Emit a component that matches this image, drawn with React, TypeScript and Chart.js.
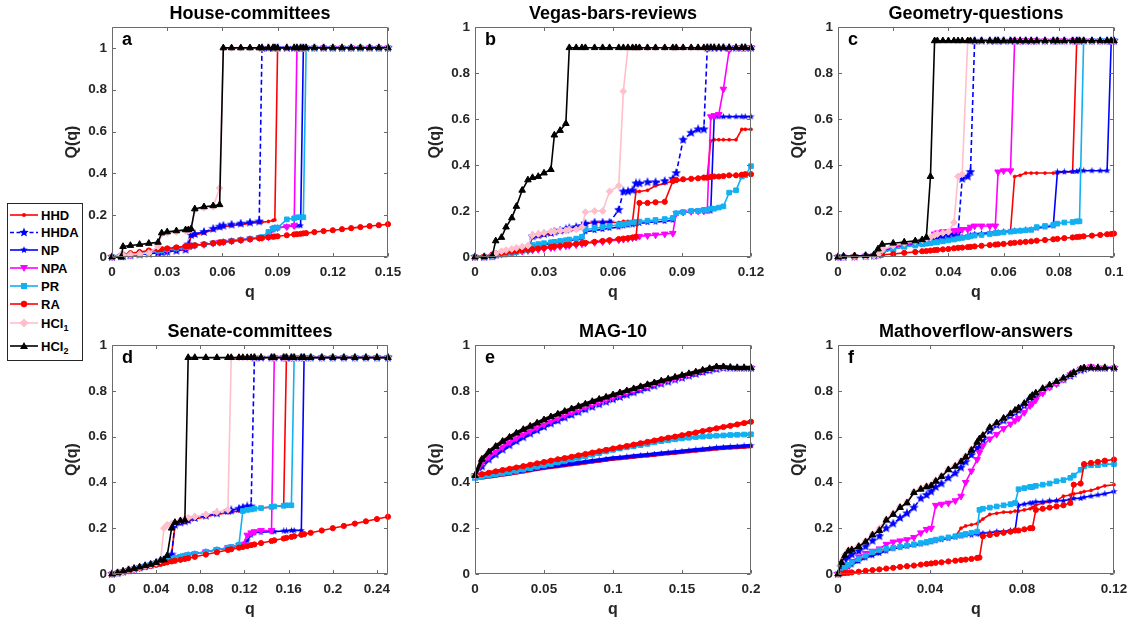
import React, { useEffect, useRef } from 'react';
import { Chart, registerables } from 'chart.js';

Chart.register(...registerables);

const FONT = '"Liberation Sans", Arial, Helvetica, sans-serif';
Chart.defaults.font.family = FONT;

// ---------------- series names ----------------
const SERIES_NAMES = ['HHD', 'HHDA', 'NP', 'NPA', 'PR', 'RA', 'HCI1', 'HCI2'];
const LEGEND_MAIN = ['HHD', 'HHDA', 'NP', 'NPA', 'PR', 'RA', 'HCI', 'HCI'];
const LEGEND_SUB = ['', '', '', '', '', '', '1', '2'];

// ---------------- panel texts & ticks ----------------
const TITLES = ['House-committees', 'Vegas-bars-reviews', 'Geometry-questions', 'Senate-committees', 'MAG-10', 'Mathoverflow-answers'];
const LETTERS = ['a', 'b', 'c', 'd', 'e', 'f'];
const X_MAX = [0.15, 0.12, 0.1, 0.25, 0.2, 0.12];
const Y_MAX = [1.1, 1, 1, 1, 1, 1];
const Y_TICKS = [0, 0.2, 0.4, 0.6, 0.8, 1];
const Y_TICK_LABELS = ['0', '0.2', '0.4', '0.6', '0.8', '1'];
const X_TICKS = [
  [0, 0.03, 0.06, 0.09, 0.12, 0.15],
  [0, 0.03, 0.06, 0.09, 0.12],
  [0, 0.02, 0.04, 0.06, 0.08, 0.1],
  [0, 0.04, 0.08, 0.12, 0.16, 0.2, 0.24],
  [0, 0.05, 0.1, 0.15, 0.2],
  [0, 0.04, 0.08, 0.12],
];
const X_TICK_LABELS = [
  ['0', '0.03', '0.06', '0.09', '0.12', '0.15'],
  ['0', '0.03', '0.06', '0.09', '0.12'],
  ['0', '0.02', '0.04', '0.06', '0.08', '0.1'],
  ['0', '0.04', '0.08', '0.12', '0.16', '0.2', '0.24'],
  ['0', '0.05', '0.1', '0.15', '0.2'],
  ['0', '0.04', '0.08', '0.12'],
];

// ---------------- (a) House-committees ----------------
const qA = [0, 0.005, 0.006, 0.01, 0.015, 0.02, 0.025, 0.027, 0.03, 0.035,
  0.04, 0.0415, 0.043, 0.045, 0.05, 0.055, 0.0585, 0.0605, 0.065, 0.07,
  0.075, 0.08, 0.0815, 0.085, 0.0875, 0.0885, 0.09, 0.095, 0.099, 0.1005,
  0.1025, 0.104, 0.1055, 0.11, 0.115, 0.12, 0.125, 0.13, 0.135, 0.14,
  0.145, 0.15];
const HHD_A = [0, 0.003, 0.004, 0.008, 0.012, 0.016, 0.02, 0.022, 0.025, 0.03,
  0.035, 0.05, 0.1, 0.105, 0.115, 0.13, 0.14, 0.145, 0.15, 0.155,
  0.16, 0.165, 0.167, 0.17, 0.175, 0.178, 1, 1, 1, 1,
  1, 1, 1, 1, 1, 1, 1, 1, 1, 1,
  1, 1];
const HHDA_A = [0, 0.003, 0.004, 0.008, 0.012, 0.016, 0.02, 0.022, 0.025, 0.03,
  0.035, 0.06, 0.105, 0.11, 0.12, 0.135, 0.145, 0.15, 0.155, 0.16,
  0.165, 0.17, 1, 1, 1, 1, 1, 1, 1, 1,
  1, 1, 1, 1, 1, 1, 1, 1, 1, 1,
  1, 1];
const NP_A = [0, 0.004, 0.005, 0.01, 0.015, 0.02, 0.03, 0.033, 0.037, 0.042,
  0.048, 0.05, 0.052, 0.055, 0.06, 0.066, 0.07, 0.072, 0.077, 0.082,
  0.087, 0.092, 0.093, 0.097, 0.13, 0.14, 0.14, 0.145, 0.15, 0.15,
  0.15, 1, 1, 1, 1, 1, 1, 1, 1, 1,
  1, 1];
const NPA_A = [0, 0.004, 0.005, 0.01, 0.015, 0.02, 0.03, 0.033, 0.037, 0.042,
  0.048, 0.05, 0.052, 0.055, 0.06, 0.066, 0.07, 0.072, 0.077, 0.082,
  0.087, 0.092, 0.093, 0.097, 0.135, 0.14, 0.14, 0.145, 0.15, 1,
  1, 1, 1, 1, 1, 1, 1, 1, 1, 1,
  1, 1];
const PR_A = [0, 0.004, 0.005, 0.01, 0.015, 0.02, 0.03, 0.033, 0.037, 0.042,
  0.048, 0.05, 0.052, 0.055, 0.06, 0.066, 0.07, 0.072, 0.077, 0.082,
  0.087, 0.092, 0.095, 0.12, 0.135, 0.14, 0.14, 0.18, 0.185, 0.19,
  0.19, 0.19, 1, 1, 1, 1, 1, 1, 1, 1,
  1, 1];
const RA_A = [0, 0.008, 0.012, 0.018, 0.024, 0.031, 0.036, 0.038, 0.041, 0.046,
  0.051, 0.053, 0.054, 0.056, 0.061, 0.066, 0.069, 0.071, 0.075, 0.08,
  0.085, 0.09, 0.091, 0.094, 0.097, 0.098, 0.099, 0.104, 0.108, 0.109,
  0.111, 0.113, 0.114, 0.119, 0.124, 0.128, 0.133, 0.138, 0.143, 0.148,
  0.152, 0.157];
const HCI1_A = [0, 0.008, 0.01, 0.012, 0.015, 0.02, 0.05, 0.11, 0.115, 0.12,
  0.125, 0.125, 0.13, 0.225, 0.235, 0.24, 0.33, 1, 1, 1,
  1, 1, 1, 1, 1, 1, 1, 1, 1, 1,
  1, 1, 1, 1, 1, 1, 1, 1, 1, 1,
  1, 1];
const HCI2_A = [0, 0, 0.05, 0.055, 0.06, 0.065, 0.07, 0.115, 0.12, 0.125,
  0.13, 0.13, 0.135, 0.23, 0.24, 0.245, 0.25, 1, 1, 1,
  1, 1, 1, 1, 1, 1, 1, 1, 1, 1,
  1, 1, 1, 1, 1, 1, 1, 1, 1, 1,
  1, 1];

// ---------------- (b) Vegas-bars-reviews ----------------
const qB = [0, 0.004, 0.0075, 0.009, 0.0115, 0.0135, 0.016, 0.018, 0.0205, 0.023,
  0.025, 0.0275, 0.03, 0.033, 0.0345, 0.037, 0.0395, 0.041, 0.044, 0.0465,
  0.048, 0.052, 0.0555, 0.0585, 0.0625, 0.0645, 0.0665, 0.0685, 0.07, 0.0715,
  0.075, 0.0785, 0.0825, 0.086, 0.0875, 0.0905, 0.094, 0.097, 0.0995, 0.101,
  0.1025, 0.104, 0.106, 0.108, 0.1105, 0.1135, 0.116, 0.1175, 0.12];
const HHD_B = [0, 0, 0.003, 0.008, 0.012, 0.016, 0.02, 0.025, 0.03, 0.035,
  0.085, 0.09, 0.095, 0.1, 0.105, 0.11, 0.11, 0.115, 0.12, 0.125,
  0.145, 0.15, 0.15, 0.15, 0.15, 0.155, 0.155, 0.155, 0.285, 0.285,
  0.29, 0.31, 0.32, 0.33, 0.33, 0.335, 0.34, 0.345, 0.35, 0.35,
  0.505, 0.51, 0.51, 0.51, 0.51, 0.51, 0.555, 0.555, 0.555];
const HHDA_B = [0, 0, 0.003, 0.01, 0.015, 0.02, 0.025, 0.03, 0.035, 0.04,
  0.09, 0.095, 0.1, 0.105, 0.11, 0.115, 0.12, 0.125, 0.13, 0.135,
  0.145, 0.15, 0.15, 0.15, 0.205, 0.285, 0.285, 0.29, 0.32, 0.32,
  0.325, 0.325, 0.33, 0.34, 0.365, 0.51, 0.54, 0.555, 0.555, 0.91,
  0.91, 0.91, 0.91, 0.91, 0.91, 0.91, 0.91, 0.91, 0.91];
const NP_B = [0, 0, 0.003, 0.008, 0.012, 0.015, 0.018, 0.022, 0.026, 0.03,
  0.045, 0.05, 0.055, 0.058, 0.062, 0.065, 0.068, 0.072, 0.075, 0.08,
  0.11, 0.115, 0.12, 0.125, 0.13, 0.135, 0.138, 0.14, 0.143, 0.146,
  0.15, 0.152, 0.155, 0.16, 0.19, 0.195, 0.198, 0.2, 0.2, 0.2,
  0.2, 0.61, 0.61, 0.61, 0.61, 0.61, 0.61, 0.61, 0.61];
const NPA_B = [0, 0, 0.003, 0.008, 0.012, 0.015, 0.018, 0.022, 0.025, 0.028,
  0.03, 0.033, 0.036, 0.04, 0.042, 0.045, 0.048, 0.05, 0.053, 0.057,
  0.06, 0.063, 0.066, 0.07, 0.074, 0.077, 0.08, 0.083, 0.086, 0.09,
  0.093, 0.096, 0.1, 0.103, 0.19, 0.195, 0.198, 0.2, 0.2, 0.205,
  0.61, 0.615, 0.62, 0.73, 0.9, 0.91, 0.91, 0.91, 0.91];
const PR_B = [0, 0, 0.003, 0.008, 0.012, 0.015, 0.018, 0.022, 0.026, 0.03,
  0.052, 0.056, 0.06, 0.064, 0.066, 0.07, 0.073, 0.076, 0.08, 0.088,
  0.12, 0.125, 0.13, 0.135, 0.14, 0.143, 0.146, 0.15, 0.152, 0.154,
  0.158, 0.161, 0.165, 0.17, 0.19, 0.195, 0.2, 0.2, 0.205, 0.205,
  0.21, 0.21, 0.215, 0.22, 0.28, 0.29, 0.35, 0.355, 0.395];
const RA_B = [0, 0.002, 0.01, 0.015, 0.018, 0.021, 0.023, 0.026, 0.029, 0.032,
  0.034, 0.037, 0.04, 0.044, 0.046, 0.049, 0.052, 0.053, 0.057, 0.06,
  0.062, 0.066, 0.07, 0.073, 0.078, 0.08, 0.082, 0.085, 0.088, 0.235,
  0.235, 0.238, 0.24, 0.33, 0.335, 0.338, 0.34, 0.342, 0.345, 0.345,
  0.348, 0.35, 0.35, 0.352, 0.355, 0.355, 0.358, 0.36, 0.36];
const HCI1_B = [0, 0, 0.005, 0.015, 0.025, 0.03, 0.035, 0.04, 0.045, 0.05,
  0.095, 0.1, 0.105, 0.11, 0.11, 0.115, 0.115, 0.12, 0.12, 0.13,
  0.195, 0.2, 0.2, 0.285, 0.31, 0.72, 0.91, 0.91, 0.91, 0.91,
  0.91, 0.91, 0.91, 0.91, 0.91, 0.91, 0.91, 0.91, 0.91, 0.91,
  0.91, 0.91, 0.91, 0.91, 0.91, 0.91, 0.91, 0.91, 0.91];
const HCI2_B = [0, 0, 0.005, 0.07, 0.085, 0.13, 0.17, 0.22, 0.29, 0.335,
  0.345, 0.35, 0.365, 0.38, 0.53, 0.55, 0.58, 0.91, 0.91, 0.91,
  0.91, 0.91, 0.91, 0.91, 0.91, 0.91, 0.91, 0.91, 0.91, 0.91,
  0.91, 0.91, 0.91, 0.91, 0.91, 0.91, 0.91, 0.91, 0.91, 0.91,
  0.91, 0.91, 0.91, 0.91, 0.91, 0.91, 0.91, 0.91, 0.91];

// ---------------- (c) Geometry-questions ----------------
const qC = [0, 0.002, 0.006, 0.01, 0.013, 0.0145, 0.016, 0.02, 0.024, 0.028,
  0.0305, 0.032, 0.0335, 0.035, 0.036, 0.038, 0.04, 0.042, 0.0435, 0.045,
  0.047, 0.048, 0.0495, 0.052, 0.055, 0.057, 0.058, 0.06, 0.0625, 0.064,
  0.066, 0.068, 0.07, 0.072, 0.075, 0.078, 0.0795, 0.082, 0.085, 0.0865,
  0.0875, 0.089, 0.092, 0.095, 0.0975, 0.099, 0.1];
const HHD_C = [0, 0, 0.002, 0.004, 0.006, 0.01, 0.025, 0.04, 0.048, 0.055,
  0.06, 0.063, 0.066, 0.07, 0.072, 0.076, 0.08, 0.085, 0.088, 0.09,
  0.093, 0.095, 0.097, 0.1, 0.103, 0.106, 0.108, 0.11, 0.112, 0.35,
  0.355, 0.365, 0.365, 0.365, 0.365, 0.365, 0.365, 0.37, 0.37, 0.94,
  0.94, 0.94, 0.94, 0.94, 0.94, 0.94, 0.94];
const HHDA_C = [0, 0, 0.002, 0.004, 0.006, 0.01, 0.02, 0.04, 0.05, 0.06,
  0.065, 0.07, 0.075, 0.08, 0.085, 0.09, 0.095, 0.1, 0.105, 0.34,
  0.35, 0.37, 0.94, 0.94, 0.94, 0.94, 0.94, 0.94, 0.94, 0.94,
  0.94, 0.94, 0.94, 0.94, 0.94, 0.94, 0.94, 0.94, 0.94, 0.94,
  0.94, 0.94, 0.94, 0.94, 0.94, 0.94, 0.94];
const NP_C = [0, 0, 0.002, 0.004, 0.006, 0.01, 0.02, 0.035, 0.045, 0.052,
  0.056, 0.06, 0.063, 0.066, 0.068, 0.072, 0.076, 0.08, 0.083, 0.086,
  0.09, 0.095, 0.1, 0.102, 0.105, 0.108, 0.108, 0.11, 0.112, 0.115,
  0.115, 0.118, 0.12, 0.125, 0.13, 0.135, 0.37, 0.37, 0.372, 0.372,
  0.375, 0.375, 0.375, 0.375, 0.375, 0.94, 0.94];
const NPA_C = [0, 0, 0.002, 0.004, 0.006, 0.01, 0.03, 0.045, 0.055, 0.06,
  0.07, 0.075, 0.08, 0.1, 0.105, 0.11, 0.11, 0.115, 0.115, 0.12,
  0.12, 0.13, 0.135, 0.135, 0.135, 0.135, 0.37, 0.375, 0.375, 0.94,
  0.94, 0.94, 0.94, 0.94, 0.94, 0.94, 0.94, 0.94, 0.94, 0.94,
  0.94, 0.94, 0.94, 0.94, 0.94, 0.94, 0.94];
const PR_C = [0, 0, 0.002, 0.004, 0.006, 0.01, 0.02, 0.035, 0.045, 0.05,
  0.055, 0.058, 0.06, 0.063, 0.065, 0.068, 0.072, 0.076, 0.08, 0.083,
  0.087, 0.09, 0.093, 0.096, 0.1, 0.103, 0.105, 0.107, 0.11, 0.112,
  0.114, 0.116, 0.118, 0.13, 0.135, 0.14, 0.145, 0.15, 0.152, 0.155,
  0.155, 0.94, 0.94, 0.94, 0.94, 0.94, 0.94];
const RA_C = [0, 0, 0.002, 0.004, 0.006, 0.008, 0.01, 0.013, 0.018, 0.022,
  0.025, 0.026, 0.028, 0.03, 0.031, 0.033, 0.035, 0.038, 0.04, 0.041,
  0.043, 0.044, 0.046, 0.049, 0.052, 0.054, 0.055, 0.057, 0.06, 0.062,
  0.064, 0.066, 0.068, 0.071, 0.074, 0.077, 0.079, 0.082, 0.085, 0.087,
  0.088, 0.09, 0.093, 0.096, 0.099, 0.1, 0.102];
const HCI1_C = [0, 0, 0.002, 0.004, 0.006, 0.01, 0.03, 0.05, 0.06, 0.068,
  0.075, 0.08, 0.085, 0.095, 0.1, 0.105, 0.11, 0.15, 0.35, 0.36,
  0.94, 0.94, 0.94, 0.94, 0.94, 0.94, 0.94, 0.94, 0.94, 0.94,
  0.94, 0.94, 0.94, 0.94, 0.94, 0.94, 0.94, 0.94, 0.94, 0.94,
  0.94, 0.94, 0.94, 0.94, 0.94, 0.94, 0.94];
const HCI2_C = [0, 0.003, 0.005, 0.006, 0.01, 0.035, 0.055, 0.06, 0.065, 0.07,
  0.075, 0.085, 0.35, 0.94, 0.94, 0.94, 0.94, 0.94, 0.94, 0.94,
  0.94, 0.94, 0.94, 0.94, 0.94, 0.94, 0.94, 0.94, 0.94, 0.94,
  0.94, 0.94, 0.94, 0.94, 0.94, 0.94, 0.94, 0.94, 0.94, 0.94,
  0.94, 0.94, 0.94, 0.94, 0.94, 0.94, 0.94];

// ---------------- (d) Senate-committees ----------------
const qD = [0, 0.005, 0.01, 0.015, 0.02, 0.025, 0.03, 0.035, 0.04, 0.044,
  0.047, 0.05, 0.054, 0.057, 0.062, 0.066, 0.069, 0.075, 0.085, 0.095,
  0.105, 0.108, 0.115, 0.1185, 0.1225, 0.126, 0.129, 0.135, 0.1445, 0.147,
  0.1555, 0.158, 0.1625, 0.165, 0.1715, 0.174, 0.18, 0.19, 0.2, 0.21,
  0.22, 0.23, 0.24, 0.25];
const HHD_D = [0, 0.004, 0.01, 0.016, 0.022, 0.028, 0.034, 0.04, 0.048, 0.058,
  0.062, 0.07, 0.085, 0.21, 0.22, 0.225, 0.23, 0.24, 0.25, 0.26,
  0.268, 0.27, 0.275, 0.278, 0.28, 0.283, 0.285, 0.288, 0.292, 0.295,
  0.298, 0.945, 0.945, 0.945, 0.945, 0.945, 0.945, 0.945, 0.945, 0.945,
  0.945, 0.945, 0.945, 0.945];
const HHDA_D = [0, 0.004, 0.01, 0.016, 0.022, 0.028, 0.034, 0.04, 0.048, 0.058,
  0.062, 0.07, 0.085, 0.215, 0.225, 0.23, 0.235, 0.245, 0.255, 0.265,
  0.275, 0.278, 0.285, 0.29, 0.295, 0.295, 0.945, 0.945, 0.945, 0.945,
  0.945, 0.945, 0.945, 0.945, 0.945, 0.945, 0.945, 0.945, 0.945, 0.945,
  0.945, 0.945, 0.945, 0.945];
const NP_D = [0, 0.004, 0.01, 0.016, 0.022, 0.028, 0.034, 0.04, 0.048, 0.055,
  0.06, 0.063, 0.067, 0.07, 0.075, 0.08, 0.083, 0.088, 0.097, 0.106,
  0.113, 0.116, 0.122, 0.128, 0.145, 0.17, 0.18, 0.182, 0.185, 0.185,
  0.188, 0.188, 0.19, 0.19, 0.19, 0.945, 0.945, 0.945, 0.945, 0.945,
  0.945, 0.945, 0.945, 0.945];
const NPA_D = [0, 0.004, 0.01, 0.016, 0.022, 0.028, 0.034, 0.04, 0.048, 0.055,
  0.06, 0.063, 0.067, 0.07, 0.075, 0.08, 0.083, 0.088, 0.097, 0.106,
  0.115, 0.118, 0.125, 0.13, 0.17, 0.18, 0.185, 0.19, 0.19, 0.945,
  0.945, 0.945, 0.945, 0.945, 0.945, 0.945, 0.945, 0.945, 0.945, 0.945,
  0.945, 0.945, 0.945, 0.945];
const PR_D = [0, 0.004, 0.01, 0.016, 0.022, 0.028, 0.034, 0.04, 0.048, 0.055,
  0.058, 0.062, 0.066, 0.07, 0.075, 0.08, 0.083, 0.088, 0.097, 0.106,
  0.115, 0.118, 0.128, 0.275, 0.28, 0.282, 0.285, 0.288, 0.293, 0.295,
  0.298, 0.3, 0.3, 0.945, 0.945, 0.945, 0.945, 0.945, 0.945, 0.945,
  0.945, 0.945, 0.945, 0.945];
const RA_D = [0, 0.004, 0.01, 0.015, 0.02, 0.025, 0.03, 0.035, 0.04, 0.044,
  0.048, 0.051, 0.055, 0.058, 0.062, 0.066, 0.069, 0.075, 0.085, 0.095,
  0.105, 0.108, 0.115, 0.118, 0.122, 0.126, 0.129, 0.135, 0.144, 0.147,
  0.155, 0.158, 0.162, 0.165, 0.171, 0.174, 0.18, 0.19, 0.2, 0.21,
  0.22, 0.23, 0.24, 0.25];
const HCI1_D = [0, 0.004, 0.01, 0.016, 0.022, 0.028, 0.034, 0.04, 0.048, 0.06,
  0.2, 0.215, 0.22, 0.225, 0.235, 0.24, 0.245, 0.25, 0.26, 0.27,
  0.28, 0.945, 0.945, 0.945, 0.945, 0.945, 0.945, 0.945, 0.945, 0.945,
  0.945, 0.945, 0.945, 0.945, 0.945, 0.945, 0.945, 0.945, 0.945, 0.945,
  0.945, 0.945, 0.945, 0.945];
const HCI2_D = [0, 0.005, 0.012, 0.018, 0.024, 0.03, 0.036, 0.042, 0.05, 0.06,
  0.062, 0.08, 0.2, 0.225, 0.232, 0.235, 0.945, 0.945, 0.945, 0.945,
  0.945, 0.945, 0.945, 0.945, 0.945, 0.945, 0.945, 0.945, 0.945, 0.945,
  0.945, 0.945, 0.945, 0.945, 0.945, 0.945, 0.945, 0.945, 0.945, 0.945,
  0.945, 0.945, 0.945, 0.945];

// ---------------- (e) MAG-10 ----------------
const qE = [0, 0.005, 0.01, 0.015, 0.02, 0.025, 0.03, 0.035, 0.04, 0.045,
  0.05, 0.055, 0.06, 0.065, 0.07, 0.075, 0.08, 0.085, 0.09, 0.095,
  0.1, 0.105, 0.11, 0.115, 0.12, 0.125, 0.13, 0.135, 0.14, 0.145,
  0.15, 0.155, 0.16, 0.165, 0.17, 0.175, 0.18, 0.185, 0.19, 0.195,
  0.2];
const HHD_E = [0.42, 0.421, 0.424, 0.428, 0.433, 0.437, 0.442, 0.447, 0.452, 0.457,
  0.462, 0.466, 0.47, 0.474, 0.478, 0.482, 0.486, 0.49, 0.494, 0.498,
  0.502, 0.505, 0.508, 0.511, 0.514, 0.517, 0.52, 0.523, 0.526, 0.529,
  0.532, 0.535, 0.538, 0.541, 0.544, 0.547, 0.549, 0.551, 0.553, 0.555,
  0.557];
const HHDA_E = [0.425, 0.47, 0.5, 0.522, 0.543, 0.562, 0.58, 0.597, 0.613, 0.628,
  0.643, 0.657, 0.67, 0.683, 0.695, 0.707, 0.719, 0.73, 0.741, 0.752,
  0.763, 0.773, 0.783, 0.793, 0.803, 0.812, 0.822, 0.831, 0.84, 0.849,
  0.857, 0.866, 0.874, 0.882, 0.889, 0.895, 0.9, 0.9, 0.9, 0.9,
  0.9];
const NP_E = [0.42, 0.424, 0.428, 0.432, 0.437, 0.441, 0.446, 0.451, 0.456, 0.461,
  0.466, 0.47, 0.474, 0.478, 0.482, 0.486, 0.49, 0.494, 0.498, 0.502,
  0.506, 0.509, 0.512, 0.515, 0.518, 0.521, 0.524, 0.527, 0.53, 0.533,
  0.536, 0.539, 0.542, 0.545, 0.548, 0.551, 0.553, 0.555, 0.557, 0.559,
  0.561];
const NPA_E = [0.43, 0.485, 0.512, 0.535, 0.556, 0.575, 0.593, 0.61, 0.625, 0.64,
  0.654, 0.668, 0.681, 0.694, 0.706, 0.717, 0.729, 0.74, 0.751, 0.761,
  0.772, 0.782, 0.792, 0.801, 0.811, 0.82, 0.829, 0.837, 0.846, 0.854,
  0.862, 0.87, 0.878, 0.886, 0.894, 0.9, 0.903, 0.902, 0.9, 0.9,
  0.9];
const PR_E = [0.42, 0.424, 0.429, 0.434, 0.439, 0.444, 0.45, 0.456, 0.462, 0.468,
  0.474, 0.48, 0.487, 0.494, 0.5, 0.507, 0.514, 0.521, 0.528, 0.535,
  0.542, 0.548, 0.553, 0.558, 0.563, 0.568, 0.575, 0.58, 0.584, 0.588,
  0.592, 0.595, 0.598, 0.6, 0.602, 0.604, 0.605, 0.607, 0.608, 0.609,
  0.61];
const RA_E = [0.43, 0.436, 0.442, 0.448, 0.454, 0.459, 0.465, 0.471, 0.477, 0.483,
  0.489, 0.495, 0.501, 0.506, 0.512, 0.518, 0.524, 0.53, 0.536, 0.542,
  0.548, 0.553, 0.559, 0.565, 0.571, 0.577, 0.583, 0.589, 0.595, 0.6,
  0.606, 0.612, 0.618, 0.624, 0.63, 0.636, 0.642, 0.647, 0.653, 0.659,
  0.665];
const HCI1_E = [0.43, 0.503, 0.535, 0.559, 0.58, 0.599, 0.616, 0.632, 0.647, 0.66,
  0.674, 0.687, 0.699, 0.711, 0.722, 0.733, 0.743, 0.754, 0.764, 0.773,
  0.783, 0.792, 0.801, 0.81, 0.819, 0.828, 0.836, 0.844, 0.852, 0.86,
  0.868, 0.876, 0.883, 0.891, 0.898, 0.905, 0.905, 0.902, 0.9, 0.9,
  0.9];
const HCI2_E = [0.43, 0.501, 0.533, 0.557, 0.579, 0.597, 0.615, 0.631, 0.645, 0.659,
  0.673, 0.686, 0.698, 0.71, 0.721, 0.732, 0.742, 0.753, 0.763, 0.772,
  0.782, 0.791, 0.8, 0.809, 0.818, 0.827, 0.835, 0.843, 0.851, 0.859,
  0.867, 0.875, 0.882, 0.89, 0.897, 0.905, 0.905, 0.902, 0.9, 0.9,
  0.9];

// ---------------- (f) Mathoverflow-answers ----------------
const qF = [0, 0.0015, 0.003, 0.0045, 0.006, 0.009, 0.012, 0.015, 0.018, 0.021,
  0.024, 0.027, 0.03, 0.033, 0.036, 0.0385, 0.0405, 0.0425, 0.045, 0.048,
  0.051, 0.0535, 0.0555, 0.058, 0.0605, 0.0615, 0.063, 0.066, 0.069, 0.072,
  0.075, 0.077, 0.0785, 0.081, 0.0835, 0.0845, 0.086, 0.089, 0.092, 0.095,
  0.098, 0.101, 0.1025, 0.1055, 0.107, 0.11, 0.113, 0.116, 0.12];
const HHD_F = [0, 0.01, 0.02, 0.035, 0.045, 0.06, 0.075, 0.085, 0.095, 0.105,
  0.115, 0.12, 0.125, 0.13, 0.135, 0.14, 0.145, 0.15, 0.155, 0.16,
  0.165, 0.2, 0.21, 0.215, 0.22, 0.23, 0.24, 0.26, 0.265, 0.27,
  0.27, 0.275, 0.275, 0.28, 0.285, 0.29, 0.3, 0.31, 0.315, 0.32,
  0.34, 0.345, 0.35, 0.355, 0.36, 0.365, 0.375, 0.385, 0.39];
const HHDA_F = [0, 0.03, 0.06, 0.075, 0.085, 0.1, 0.12, 0.145, 0.165, 0.2,
  0.22, 0.245, 0.265, 0.29, 0.33, 0.345, 0.36, 0.38, 0.395, 0.42,
  0.44, 0.465, 0.49, 0.52, 0.55, 0.56, 0.585, 0.625, 0.65, 0.67,
  0.69, 0.705, 0.715, 0.735, 0.76, 0.77, 0.78, 0.8, 0.82, 0.835,
  0.85, 0.865, 0.875, 0.89, 0.895, 0.9, 0.9, 0.9, 0.9];
const NP_F = [0, 0.01, 0.02, 0.03, 0.04, 0.055, 0.07, 0.08, 0.09, 0.1,
  0.11, 0.115, 0.12, 0.125, 0.13, 0.135, 0.14, 0.145, 0.15, 0.155,
  0.16, 0.165, 0.17, 0.17, 0.175, 0.175, 0.178, 0.18, 0.185, 0.185,
  0.19, 0.19, 0.3, 0.305, 0.31, 0.31, 0.315, 0.315, 0.32, 0.32,
  0.32, 0.325, 0.33, 0.33, 0.335, 0.34, 0.345, 0.35, 0.36];
const NPA_F = [0, 0.01, 0.02, 0.04, 0.055, 0.075, 0.09, 0.1, 0.11, 0.13,
  0.14, 0.145, 0.15, 0.16, 0.18, 0.195, 0.2, 0.3, 0.305, 0.31,
  0.32, 0.34, 0.4, 0.45, 0.5, 0.53, 0.56, 0.59, 0.61, 0.635,
  0.655, 0.67, 0.68, 0.705, 0.735, 0.745, 0.76, 0.79, 0.815, 0.83,
  0.85, 0.87, 0.88, 0.895, 0.9, 0.905, 0.9, 0.9, 0.9];
const PR_F = [0, 0.01, 0.03, 0.04, 0.05, 0.065, 0.08, 0.095, 0.105, 0.11,
  0.115, 0.12, 0.125, 0.13, 0.135, 0.14, 0.145, 0.15, 0.155, 0.16,
  0.165, 0.17, 0.175, 0.18, 0.185, 0.28, 0.285, 0.29, 0.295, 0.3,
  0.305, 0.31, 0.37, 0.375, 0.38, 0.38, 0.385, 0.39, 0.395, 0.405,
  0.41, 0.42, 0.43, 0.455, 0.47, 0.475, 0.475, 0.48, 0.48];
const RA_F = [0, 0.002, 0.004, 0.005, 0.007, 0.01, 0.014, 0.017, 0.02, 0.024,
  0.027, 0.031, 0.034, 0.037, 0.041, 0.044, 0.046, 0.049, 0.051, 0.055,
  0.058, 0.061, 0.063, 0.066, 0.07, 0.072, 0.165, 0.17, 0.175, 0.18,
  0.185, 0.19, 0.19, 0.195, 0.2, 0.2, 0.28, 0.285, 0.29, 0.295,
  0.3, 0.31, 0.39, 0.395, 0.48, 0.485, 0.49, 0.495, 0.5];
const HCI1_F = [0, 0.055, 0.085, 0.105, 0.11, 0.125, 0.145, 0.175, 0.2, 0.24,
  0.265, 0.295, 0.315, 0.36, 0.375, 0.385, 0.39, 0.41, 0.43, 0.46,
  0.475, 0.495, 0.515, 0.545, 0.575, 0.59, 0.605, 0.64, 0.66, 0.68,
  0.7, 0.715, 0.725, 0.745, 0.77, 0.78, 0.79, 0.81, 0.825, 0.84,
  0.855, 0.87, 0.88, 0.895, 0.9, 0.9, 0.9, 0.9, 0.9];
const HCI2_F = [0, 0.05, 0.08, 0.1, 0.105, 0.12, 0.14, 0.17, 0.19, 0.235,
  0.26, 0.29, 0.31, 0.355, 0.37, 0.38, 0.385, 0.405, 0.425, 0.455,
  0.47, 0.49, 0.51, 0.54, 0.575, 0.59, 0.605, 0.64, 0.66, 0.68,
  0.7, 0.715, 0.725, 0.745, 0.77, 0.78, 0.79, 0.81, 0.825, 0.84,
  0.855, 0.87, 0.88, 0.895, 0.9, 0.9, 0.9, 0.9, 0.9];

const Q_GRIDS = [qA, qB, qC, qD, qE, qF];
const PANEL_SERIES = [
  [HHD_A, HHDA_A, NP_A, NPA_A, PR_A, RA_A, HCI1_A, HCI2_A],
  [HHD_B, HHDA_B, NP_B, NPA_B, PR_B, RA_B, HCI1_B, HCI2_B],
  [HHD_C, HHDA_C, NP_C, NPA_C, PR_C, RA_C, HCI1_C, HCI2_C],
  [HHD_D, HHDA_D, NP_D, NPA_D, PR_D, RA_D, HCI1_D, HCI2_D],
  [HHD_E, HHDA_E, NP_E, NPA_E, PR_E, RA_E, HCI1_E, HCI2_E],
  [HHD_F, HHDA_F, NP_F, NPA_F, PR_F, RA_F, HCI1_F, HCI2_F],
];

// ---------------- styles & layout ----------------
const SERIES_STYLE = [
  { color: '#ff0000', dash: [] as number[], marker: 'dot' },
  { color: '#0000ff', dash: [5, 3], marker: 'bigstar' },
  { color: '#0000ff', dash: [] as number[], marker: 'smallstar' },
  { color: '#ff00ff', dash: [] as number[], marker: 'tridown' },
  { color: '#12b0f0', dash: [] as number[], marker: 'square' },
  { color: '#ff0000', dash: [] as number[], marker: 'circle' },
  { color: '#ffbfcb', dash: [] as number[], marker: 'diamond' },
  { color: '#000000', dash: [] as number[], marker: 'triup' },
];
const PANEL_LINE_W = [1.6, 1.6, 1.6, 1.6, 3.6, 1.6];

const PANEL_POS = [
  { left: 57, top: 0, h: 305 },
  { left: 420, top: 0, h: 305 },
  { left: 783, top: 0, h: 305 },
  { left: 57, top: 318, h: 304 },
  { left: 420, top: 318, h: 304 },
  { left: 783, top: 318, h: 304 },
];
const CANVAS_W = 355;
const Y_AXIS_W = 55;
const X_AXIS_H = 48;
const RIGHT_PAD = 24;
const AXIS_COLOR = '#262626';
const FRAME_COLOR = '#6b6b6b';

function starImage(size: number, color: string) {
  const c = document.createElement('canvas');
  c.width = size;
  c.height = size;
  const ctx = c.getContext('2d')!;
  const R = size / 2;
  const r = R * 0.45;
  ctx.beginPath();
  for (let k = 0; k < 10; k++) {
    const ang = -Math.PI / 2 + (k * Math.PI) / 5;
    const rad = k % 2 === 0 ? R : r;
    const px = R + rad * Math.cos(ang);
    const py = R + rad * Math.sin(ang);
    if (k === 0) ctx.moveTo(px, py);
    else ctx.lineTo(px, py);
  }
  ctx.closePath();
  ctx.fillStyle = color;
  ctx.fill();
  return c;
}

function pointOpts(marker: string, color: string): any {
  switch (marker) {
    case 'dot': return { pointStyle: 'circle', pointRadius: 1.6, pointRotation: 0, pointBorderWidth: 0.5 };
    case 'bigstar': return { pointStyle: starImage(10, color), pointRadius: 4, pointRotation: 0, pointBorderWidth: 0 };
    case 'smallstar': return { pointStyle: starImage(7, color), pointRadius: 3, pointRotation: 0, pointBorderWidth: 0 };
    case 'tridown': return { pointStyle: 'triangle', pointRadius: 3.8, pointRotation: 180, pointBorderWidth: 1 };
    case 'square': return { pointStyle: 'rect', pointRadius: 3.3, pointRotation: 0, pointBorderWidth: 1 };
    case 'circle': return { pointStyle: 'circle', pointRadius: 2.6, pointRotation: 0, pointBorderWidth: 1 };
    case 'diamond': return { pointStyle: 'rectRot', pointRadius: 3.4, pointRotation: 0, pointBorderWidth: 1 };
    default: return { pointStyle: 'triangle', pointRadius: 3.8, pointRotation: 0, pointBorderWidth: 1 };
  }
}

const framePlugin = {
  id: 'frame',
  afterDatasetsDraw(chart: any, _args: any, opts: any) {
    const { ctx, chartArea } = chart;
    const { left, right, top, bottom } = chartArea;
    const xs = chart.scales.x;
    const ys = chart.scales.y;
    const L = Math.round(left) + 0.5;
    const R = Math.round(right) - 0.5;
    const T = Math.round(top) + 0.5;
    const B = Math.round(bottom) - 0.5;
    const tl = 3.5;
    ctx.save();
    ctx.strokeStyle = FRAME_COLOR;
    ctx.lineWidth = 1;
    ctx.beginPath();
    ctx.rect(L, T, R - L, B - T);
    xs.ticks.forEach((t: any) => {
      const p = Math.round(xs.getPixelForValue(t.value)) + 0.5;
      ctx.moveTo(p, B); ctx.lineTo(p, B - tl);
      ctx.moveTo(p, T); ctx.lineTo(p, T + tl);
    });
    ys.ticks.forEach((t: any) => {
      const p = Math.round(ys.getPixelForValue(t.value)) + 0.5;
      ctx.moveTo(L, p); ctx.lineTo(L + tl, p);
      ctx.moveTo(R, p); ctx.lineTo(R - tl, p);
    });
    ctx.stroke();
    ctx.fillStyle = '#000';
    ctx.font = `bold 18px ${FONT}`;
    ctx.textAlign = 'left';
    ctx.textBaseline = 'alphabetic';
    ctx.fillText(opts.letter, left + 10, top + 18);
    ctx.restore();
  },
};

function Panel({ idx }: { idx: number }) {
  const ref = useRef<HTMLCanvasElement>(null);
  const pos = PANEL_POS[idx];
  useEffect(() => {
    const q = Q_GRIDS[idx];
    const xTicks = X_TICKS[idx];
    const xLabels = X_TICK_LABELS[idx];
    const datasets = PANEL_SERIES[idx].map((vals, i) => {
      const st = SERIES_STYLE[i];
      return {
        label: SERIES_NAMES[i],
        data: q.map((x, k) => ({ x, y: vals[k] })),
        borderColor: st.color,
        backgroundColor: st.color,
        borderWidth: PANEL_LINE_W[idx],
        borderDash: st.dash,
        pointBackgroundColor: st.color,
        pointBorderColor: st.color,
        tension: 0,
        order: 7 - i,
        clip: false,
        ...pointOpts(st.marker, st.color),
      };
    });
    const chart = new Chart(ref.current!, {
      type: 'line',
      data: { datasets },
      plugins: [framePlugin],
      options: {
        animation: false,
        responsive: false,
        maintainAspectRatio: false,
        events: [],
        layout: { padding: { left: 0, right: RIGHT_PAD, top: 0, bottom: 0 } },
        plugins: {
          legend: { display: false },
          tooltip: { enabled: false },
          title: {
            display: true,
            text: TITLES[idx],
            fullSize: false,
            color: '#000',
            font: { size: 18, weight: 'bold' },
            padding: { top: 3, bottom: 2.4 },
          },
          frame: { letter: LETTERS[idx] },
        },
        scales: {
          x: {
            type: 'linear',
            min: 0,
            max: X_MAX[idx],
            grid: { display: false, drawTicks: false },
            border: { display: false },
            afterBuildTicks: (s: any) => { s.ticks = xTicks.map((v) => ({ value: v })); },
            afterFit: (s: any) => { s.height = X_AXIS_H; },
            ticks: {
              autoSkip: false,
              maxRotation: 0,
              padding: 7,
              color: AXIS_COLOR,
              font: { size: 13.5, weight: 'bold' },
              callback: (_v: any, i: number) => xLabels[i],
            },
            title: {
              display: true,
              text: 'q',
              color: AXIS_COLOR,
              font: { size: 16, weight: 'bold' },
              padding: { top: 0, bottom: 3 },
            },
          },
          y: {
            type: 'linear',
            min: 0,
            max: Y_MAX[idx],
            grid: { display: false, drawTicks: false },
            border: { display: false },
            afterBuildTicks: (s: any) => { s.ticks = Y_TICKS.map((v) => ({ value: v })); },
            afterFit: (s: any) => { s.width = Y_AXIS_W; },
            ticks: {
              autoSkip: false,
              padding: 5,
              color: AXIS_COLOR,
              font: { size: 13.5, weight: 'bold' },
              callback: (_v: any, i: number) => Y_TICK_LABELS[i],
            },
            title: {
              display: true,
              text: 'Q(q)',
              color: AXIS_COLOR,
              font: { size: 16, weight: 'bold' },
              padding: { top: 6, bottom: 0 },
            },
          },
        },
      } as any,
    } as any);
    return () => chart.destroy();
  }, [idx]);
  return (
    <canvas
      ref={ref}
      width={CANVAS_W}
      height={pos.h}
      style={{ position: 'absolute', left: pos.left, top: pos.top, width: CANVAS_W, height: pos.h }}
    />
  );
}

function starPts(cx: number, cy: number, R: number, r: number) {
  const pts: string[] = [];
  for (let k = 0; k < 10; k++) {
    const ang = -Math.PI / 2 + (k * Math.PI) / 5;
    const rad = k % 2 === 0 ? R : r;
    pts.push(`${(cx + rad * Math.cos(ang)).toFixed(2)},${(cy + rad * Math.sin(ang)).toFixed(2)}`);
  }
  return pts.join(' ');
}

function LegendMarker({ kind, x, y, color }: { kind: string; x: number; y: number; color: string }) {
  switch (kind) {
    case 'dot': return <circle cx={x} cy={y} r={2} fill={color} />;
    case 'bigstar': return <polygon points={starPts(x, y, 5, 2.2)} fill={color} />;
    case 'smallstar': return <polygon points={starPts(x, y, 3.8, 1.7)} fill={color} />;
    case 'tridown': return <polygon points={`${x - 4},${y - 3} ${x + 4},${y - 3} ${x},${y + 4}`} fill={color} />;
    case 'square': return <rect x={x - 3} y={y - 3} width={6} height={6} fill={color} />;
    case 'circle': return <circle cx={x} cy={y} r={3.2} fill={color} />;
    case 'diamond': return <polygon points={`${x},${y - 4.5} ${x + 4.5},${y} ${x},${y + 4.5} ${x - 4.5},${y}`} fill={color} />;
    default: return <polygon points={`${x - 4},${y + 3} ${x + 4},${y + 3} ${x},${y - 4}`} fill={color} />;
  }
}

const LEGEND_ROWS_Y = [12, 29.5, 47, 65, 83, 101, 120, 143];

function Legend() {
  return (
    <svg
      width={77}
      height={159}
      style={{ position: 'absolute', left: 7, top: 203, overflow: 'visible' }}
    >
      <rect x={0.5} y={0.5} width={75} height={157} fill="#ffffff" stroke="#262626" strokeWidth={1} />
      {SERIES_NAMES.map((name, i) => {
        const y = LEGEND_ROWS_Y[i];
        const st = SERIES_STYLE[i];
        return (
          <g key={name}>
            <line
              x1={3}
              x2={31}
              y1={y}
              y2={y}
              stroke={st.color}
              strokeWidth={1.6}
              strokeDasharray={st.dash.length ? '4 2.5' : undefined}
            />
            <LegendMarker kind={st.marker} x={17} y={y} color={st.color} />
            <text
              x={34}
              y={y}
              dominantBaseline="central"
              fontFamily={FONT}
              fontWeight="bold"
              fontSize={13}
              fill="#000"
            >
              {LEGEND_MAIN[i]}
              {LEGEND_SUB[i] ? (
                <tspan dy={5} fontSize={9}>{LEGEND_SUB[i]}</tspan>
              ) : null}
            </text>
          </g>
        );
      })}
    </svg>
  );
}

export default function App() {
  return (
    <div
      style={{
        position: 'fixed',
        left: 0,
        top: 0,
        width: 1133,
        height: 621,
        background: '#ffffff',
        overflow: 'hidden',
      }}
    >
      {[0, 1, 2, 3, 4, 5].map((i) => (
        <Panel key={i} idx={i} />
      ))}
      <Legend />
    </div>
  );
}
